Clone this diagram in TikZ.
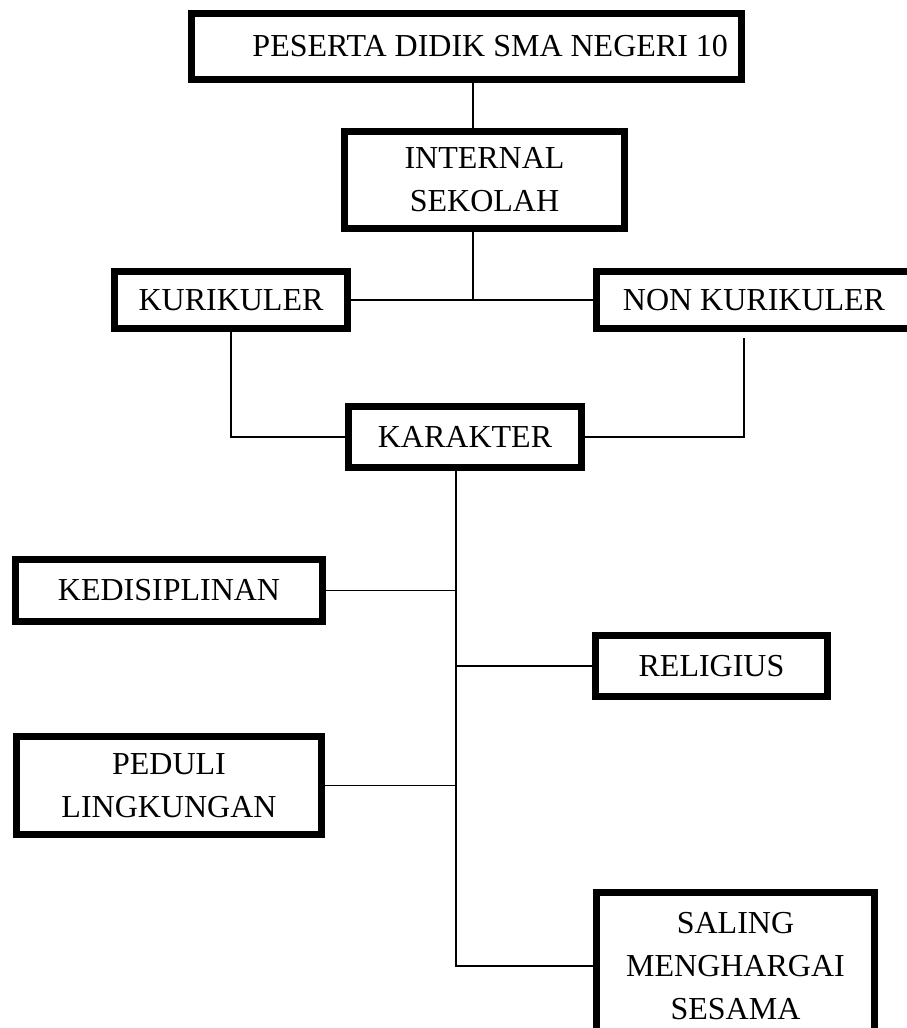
\documentclass[tikz,border=0pt]{standalone}
\usepackage{fontspec}
\setmainfont{Liberation Serif}
\tikzset{>=latex}
\tikzset{box/.style={draw,line width=6.5pt,inner sep=0pt,outer sep=0pt,align=center}}
\tikzset{garis/.style={line width=1.6pt}}

\begin{document}
\begin{tikzpicture}[x=1pt,y=-1pt,font=\fontsize{32}{43}\selectfont]
	\clip (0,0) rectangle (907,1028);
	\node[box,minimum width=550pt,minimum height=66pt,text width=523pt,align=flush right] (peserta) at(466.5,46.5) {PESERTA DIDIK SMA NEGERI 10};
	\node[box,minimum width=280pt,minimum height=97pt] (internal) at(484.5,180) {INTERNAL\\SEKOLAH};
	\node[box,minimum width=233pt,minimum height=57pt] (kurikuler) at(231,300) {KURIKULER};
	\node[box,minimum width=315pt,minimum height=57pt] (nonkur) at(754,300) {NON KURIKULER};
	\node[box,minimum width=233pt,minimum height=61pt] (karakter) at(465,437) {KARAKTER};
	\node[box,minimum width=307pt,minimum height=62pt] (disiplin) at(169,590.5) {KEDISIPLINAN};
	\node[box,minimum width=232pt,minimum height=61pt] (religius) at(711.5,666) {RELIGIUS};
	\node[box,minimum width=305pt,minimum height=98pt] (peduli) at(169,785.5) {PEDULI\\LINGKUNGAN};
	\node[box,minimum width=278pt,minimum height=147pt] (saling) at(735.5,966) {SALING\\MENGHARGAI\\SESAMA};
	\coordinate (cabang) at(473,300);
	\coordinate (nk) at(744,338);
	\coordinate (batang) at(456,600);
	\draw[garis] (peserta.south -| cabang) -- (internal.north -| cabang);
	\draw[garis] (internal.south -| cabang) -- (cabang);
	\draw[garis] (kurikuler.east) -- (nonkur.west);
	\draw[garis] (kurikuler.south) |- (karakter.west);
	\draw[garis] (nk) |- (karakter.east);
	\draw[garis] (karakter.south -| batang) |- (saling.west);
	\draw[garis] (disiplin.east) -- (disiplin.east -| batang);
	\draw[garis] (religius.west) -- (religius.west -| batang);
	\draw[garis] (peduli.east) -- (peduli.east -| batang);
\end{tikzpicture}
\end{document}
